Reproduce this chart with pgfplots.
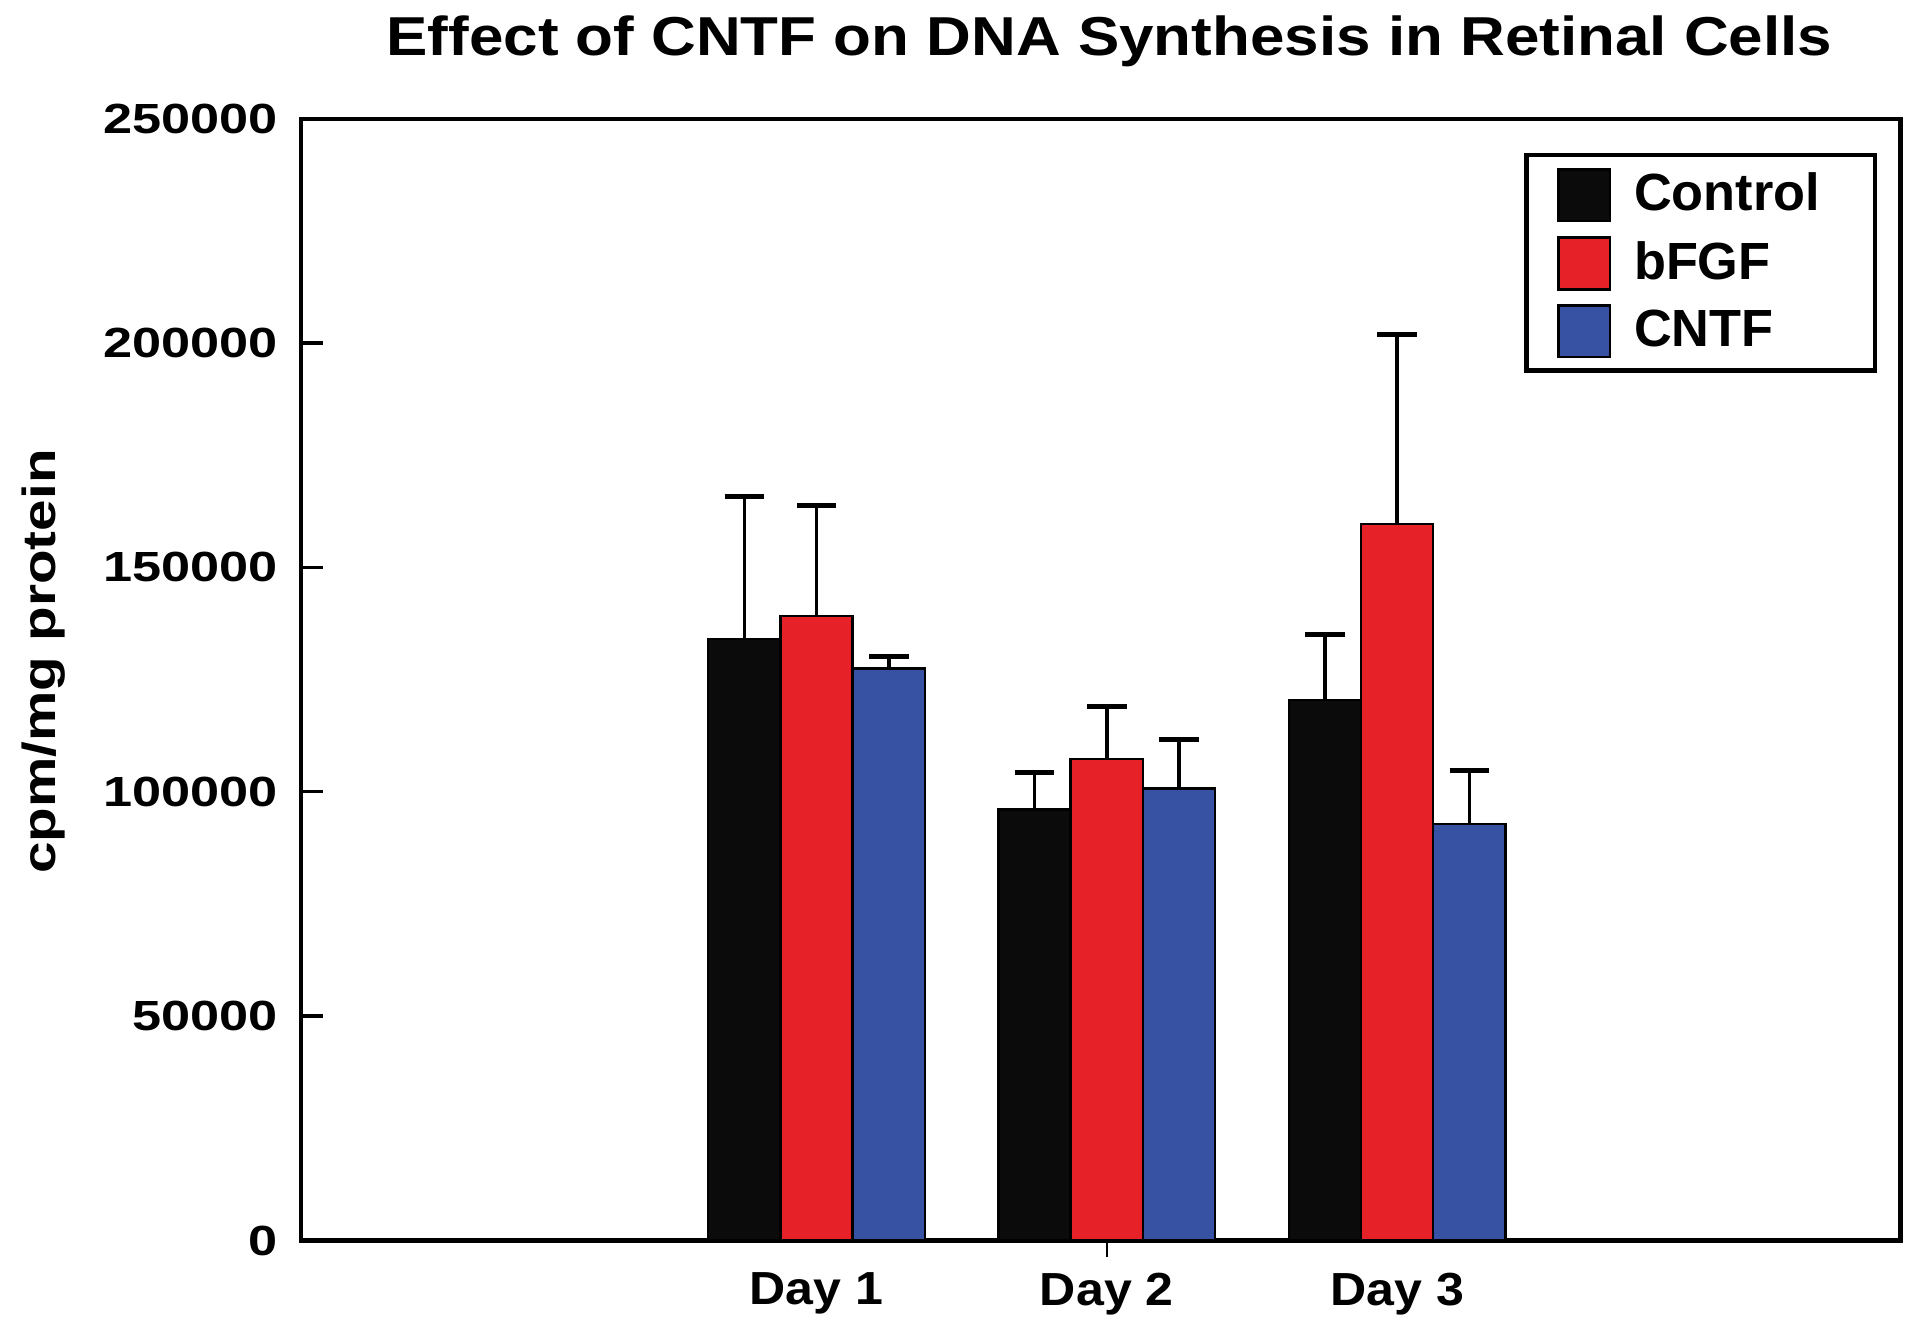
\documentclass[border=0pt]{standalone}
\usepackage{pgfplots}
\pgfplotsset{compat=1.18}
\usepackage{graphicx}
\usepackage{fontspec}
\setmainfont{Liberation Sans}
\newcommand\wt[2]{\scalebox{#1}[1]{#2}}
\definecolor{cblack}{HTML}{0B0B0B}
\definecolor{cred}{HTML}{E62228}
\definecolor{cblue}{HTML}{3751A3}
\begin{document}
\begin{tikzpicture}
\begin{axis}[
  scale only axis, width=13.33cm, height=9.35cm,
  xmin=-0.776, xmax=4.734, ymin=0, ymax=250000,
  scaled y ticks=false,
  axis line style={line width=1pt},
  ybar=0pt, bar width=0.602cm,
  tick align=inside, major tick length=0.18cm,
  xtick pos=bottom, ytick pos=left,
  xtick={1,2,3},
  xticklabels={\wt{1.08}{Day 1},\wt{1.08}{Day 2},\wt{1.08}{Day 3}},
  xtick style={draw=none},
  extra x ticks={2}, extra x tick labels={},
  extra x tick style={tick align=outside, major tick length=0.14cm, xtick style={draw=black, line width=0.6pt}},
  ytick={0,50000,100000,150000,200000,250000},
  yticklabels={\wt{1.24}{0},\wt{1.24}{50000},\wt{1.24}{100000},\wt{1.24}{150000},\wt{1.24}{200000},\wt{1.24}{250000}},
  ytick style={line width=0.8pt, black},
  xticklabel style={font=\bfseries\fontsize{11}{13}\selectfont, yshift=-0.146cm},
  yticklabel style={font=\bfseries\fontsize{10}{12}\selectfont, xshift=-0.07cm},
  ylabel={\wt{1.22}{cpm/mg protein}},
  ylabel style={font=\bfseries\fontsize{11}{13}\selectfont, at={(axis description cs:-0.1608,0.516)}, anchor=center},
  every axis title shift=0pt,
  title={\wt{1.13}{Effect of CNTF on DNA Synthesis in Retinal Cells}},
  title style={font=\bfseries\fontsize{13}{15}\selectfont, at={(axis description cs:0.5054,1)}, anchor=base, yshift=0.53cm, inner sep=0pt},
  legend style={at={(axis description cs:0.9855,0.9694)}, anchor=north east, draw=black, line width=1pt,
     font=\bfseries\fontsize{12.4}{14}\selectfont, inner xsep=0.255cm, inner ysep=0.08cm, row sep=0.06cm, column sep=0.12cm},
  legend cell align=left,
  legend image code/.code={\draw[#1, line width=0.6pt, draw=black] (0cm,-0.215cm) rectangle (0.43cm,0.215cm);},
  error bars/y dir=plus, error bars/y explicit,
  error bars/error bar style={line width=0.85pt, black},
  error bars/error mark options={rotate=90, mark size=0.165cm, line width=1.2pt, black},
]
\addplot[fill=cblack, draw=black, line width=0.6pt] coordinates {
  (1,134000) +- (0,31700)
  (2,96000) +- (0,8300)
  (3,120400) +- (0,14700)
};
\addlegendentry{Control\hspace*{0.135cm}}
\addplot[fill=cred, draw=black, line width=0.6pt] coordinates {
  (1,139200) +- (0,24500)
  (2,107300) +- (0,11700)
  (3,159700) +- (0,42300)
};
\addlegendentry{bFGF}
\addplot[fill=cblue, draw=black, line width=0.6pt] coordinates {
  (1,127500) +- (0,2700)
  (2,100700) +- (0,10900)
  (3,92800) +- (0,12000)
};
\addlegendentry{CNTF}
\end{axis}
\path ([shift={(-2.509cm,-0.745cm)}]current axis.south west) rectangle ([shift={(0.163cm,0.989cm)}]current axis.north east);
\end{tikzpicture}
\end{document}
